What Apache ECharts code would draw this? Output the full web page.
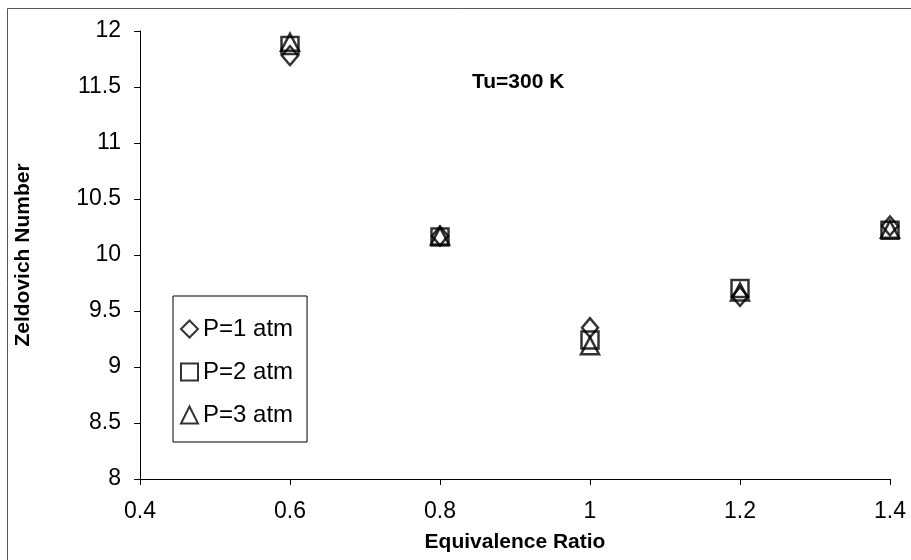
<!DOCTYPE html>
<html>
<head>
<meta charset="utf-8">
<script src="https://cdn.jsdelivr.net/npm/echarts@6/dist/echarts.min.js"></script>
<style>
html,body{margin:0;padding:0;background:#fff;}
#chart{width:911px;height:560px;}
</style>
</head>
<body>
<div id="chart"></div>
<script>
var ratios = [0.6, 0.8, 1.0, 1.2, 1.4];
var p1 = [11.78, 10.17, 9.35, 9.63, 10.26];
var p2 = [11.87, 10.16, 9.24, 9.70, 10.22];
var p3 = [11.90, 10.17, 9.19, 9.67, 10.23];
var seriesNames = ['P=1 atm', 'P=2 atm', 'P=3 atm'];
var symbols = ['diamond', 'rect', 'triangle'];
var symbolSizes = [[16, 19], [17, 17], [18, 17]];
var annotation = 'Tu=300 K';

function pairs(vals) { return ratios.map(function (x, i) { return [x, vals[i]]; }); }
var allVals = [p1, p2, p3];

var chart = echarts.init(document.getElementById('chart'));
var font = 'Liberation Sans, Arial, sans-serif';
chart.setOption({
  backgroundColor: '#fff',
  animation: false,
  textStyle: { fontFamily: font },
  grid: { left: 140, right: 21, top: 31, bottom: 81, containLabel: false },
  xAxis: {
    type: 'value', min: 0.4, max: 1.4, interval: 0.2,
    name: 'Equivalence Ratio', nameLocation: 'middle', nameGap: 53,
    nameTextStyle: { fontSize: 21, fontWeight: 'bold', color: '#000', fontFamily: font },
    axisLine: { lineStyle: { color: '#000', width: 1 } },
    axisTick: { show: true, inside: false, length: 6, lineStyle: { color: '#000' } },
    axisLabel: { fontSize: 23, color: '#000', margin: 21, fontFamily: font },
    splitLine: { show: false }
  },
  yAxis: {
    type: 'value', min: 8, max: 12, interval: 0.5,
    name: 'Zeldovich Number', nameLocation: 'middle', nameGap: 106, nameRotate: 90,
    nameTextStyle: { fontSize: 21, fontWeight: 'bold', color: '#000', fontFamily: font },
    axisLine: { show: true, lineStyle: { color: '#000', width: 1 } },
    axisTick: { show: true, inside: false, length: 6, lineStyle: { color: '#000' } },
    axisLabel: { fontSize: 23, color: '#000', margin: 19, fontFamily: font },
    splitLine: { show: false }
  },
  legend: {
    orient: 'vertical', left: 173, top: 296,
    backgroundColor: '#fff', borderColor: '#000', borderWidth: 1,
    padding: [21, 14, 15, 7], itemGap: 19,
    itemWidth: 17, itemHeight: 17,
    textStyle: { fontSize: 24, color: '#000', fontFamily: font },
    data: seriesNames
  },
  graphic: [
    { type: 'rect', left: 5, top: 6, shape: { width: 905, height: 553 }, style: { fill: 'none', stroke: '#555', lineWidth: 1 }, silent: true, z: -1 },
    { type: 'text', left: 472, top: 72, style: { text: annotation, font: 'bold 21px ' + font, fill: '#000' } }
  ],
  series: seriesNames.map(function (n, i) {
    return {
      name: n, type: 'scatter', symbol: symbols[i], symbolSize: symbolSizes[i],
      itemStyle: { color: 'rgba(255,255,255,0)', borderColor: '#000', borderWidth: 2.5 },
      data: pairs(allVals[i])
    };
  })
});
</script>
</body>
</html>
